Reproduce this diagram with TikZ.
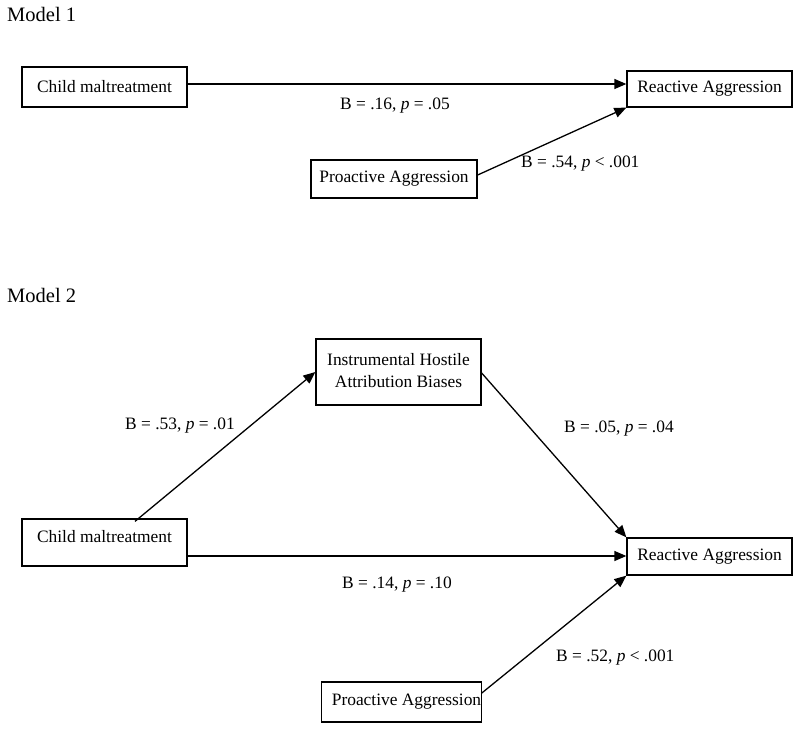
\documentclass[tikz,border=0pt]{standalone}
\usepackage{fontspec}
\setmainfont{Liberation Serif}
\usetikzlibrary{arrows.meta}
\begin{document}
\begin{tikzpicture}[x=1pt,y=-1pt,
  box/.style={draw=black, line width=1.3pt, rectangle, inner sep=0pt, align=center,
    font=\fontsize{17.4}{22}\selectfont},
  lbl/.style={anchor=base west, inner sep=0pt, font=\fontsize{17.4}{22}\selectfont},
  ttl/.style={anchor=base west, inner sep=0pt, font=\fontsize{20.5}{24}\selectfont},
  arr/.style={line width=1.3pt, -{Triangle[length=12pt,width=10pt]}}]
\useasboundingbox (0,0) rectangle (800,730);

% Model 1
\node[ttl] (t1) at (7,22) {Model 1};
\node[box, minimum width=165pt, minimum height=40pt] (cm1) at (104.5,87) {Child maltreatment};
\node[box, minimum width=165pt, minimum height=36pt] (ra1) at (709.5,89) {Reactive Aggression};
\node[box, minimum width=166pt, minimum height=38pt] (pa1) at (394,179) {Proactive Aggression};
\draw[arr] ([yshift=3pt]cm1.east) -- ([yshift=3pt]cm1.east -| ra1.west);
\draw[arr] ([yshift=4pt]pa1.east) -- (ra1.south west);
\node[lbl] (l1a) at (340,110) {B = .16, \textit{p} = .05};
\node[lbl] (l1b) at (521,168) {B = .54, \textit{p} < .001};

% Model 2
\node[ttl] (t2) at (7,302) {Model 2};
\node[box, minimum width=165pt, minimum height=66pt] (ihb) at (398.5,372)
  {\raisebox{6pt}{\begin{tabular}{@{}c@{}}Instrumental Hostile\\[0pt]Attribution Biases\end{tabular}}};
\node[box, minimum width=165pt, minimum height=47pt] (cm2) at (104.5,542.5) {\raisebox{13pt}{Child maltreatment}};
\node[box, minimum width=165pt, minimum height=37pt] (ra2) at (709.5,556.5) {Reactive Aggression};
\node[box, minimum width=157pt, minimum height=40pt] (pa2) at (401.5,702) {\hspace{10pt}\raisebox{5pt}{Proactive Aggression}};
\draw[arr] ([xshift=30.5pt,yshift=-3pt]cm2.north) -- (ihb.west);
\draw[arr] ([yshift=-1pt]ihb.east) -- (ra2.north west);
\draw[arr] ([yshift=-13.5pt]cm2.east) -- ([yshift=-13.5pt]cm2.east -| ra2.west);
\draw[arr] ([yshift=9pt]pa2.east) -- (ra2.south west);
\node[lbl] (l2a) at (125,429) {B = .53, \textit{p} = .01};
\node[lbl] (l2b) at (564,432) {B = .05, \textit{p} = .04};
\node[lbl] (l2c) at (342,588) {B = .14, \textit{p} = .10};
\node[lbl] (l2d) at (556,661) {B = .52, \textit{p} < .001};
\end{tikzpicture}
\end{document}
